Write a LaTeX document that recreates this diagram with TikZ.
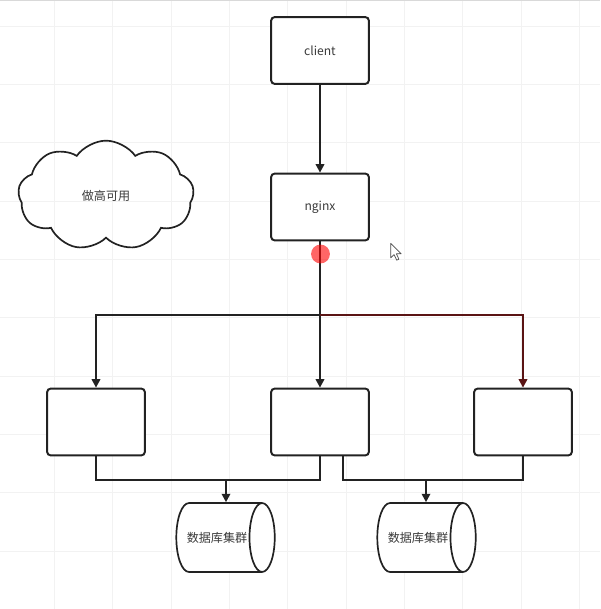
\documentclass[tikz,border=0pt]{standalone}
\usepackage{fontspec}
\usepackage{tikz}
\usetikzlibrary{arrows.meta}
\usetikzlibrary{shapes.geometric,shapes.symbols}
\usetikzlibrary{calc}
\newfontfamily\cjk{Noto Sans CJK SC}
\definecolor{ink}{HTML}{222222}
\definecolor{txt}{HTML}{3A3A3A}
\definecolor{selred}{HTML}{5A1414}
\tikzset{every node/.style={font=\cjk\fontsize{8.6}{10}\selectfont,text=txt},
 box/.style={draw=ink,line width=1.4pt,rounded corners=2.5pt,minimum width=69.5pt,minimum height=47.5pt,fill=white},
 db/.style={draw=ink,line width=1.2pt,cylinder,aspect=1.8,minimum width=49pt,minimum height=68pt,fill=white,inner sep=1pt},
 wolke/.style={draw=ink,line width=1.2pt,cloud,cloud puffs=9,cloud puff arc=110,aspect=1.7,minimum width=125pt,minimum height=78pt},
 link/.style={draw=ink,line width=1.4pt},
 arr/.style={link,-{Triangle[length=6pt,width=6pt]}},
 gridline/.style={draw=black!5,line width=0.5pt},
 }

\begin{document}
\begin{tikzpicture}[x=0.025cm,y=-0.025cm]
    \useasboundingbox (0,0) rectangle (600,609);
    \fill[white] (0,0) rectangle (600,609);
    \foreach \gx in {54.4,112.8,171.1,229.4,287.8,346.1,404.4,462.8,521.1,579.4}
        \draw[gridline] (\gx,0) -- (\gx,609);
    \foreach \gy in {26,84.3,142.7,201,259.3,317.7,376,434.3,492.7,551}
        \draw[gridline] (0,\gy) -- (600,\gy);
    \draw[black!15,line width=1pt] (0,0.5) -- (600,0.5);

    \node[box] (client) at (320,50.5) {client};
    \node[box] (nginx) at (320,207) {nginx};
    \node[wolke] (ha) at (106,195.5) {做高可用};

    \node[box] (lbox) at (96,422) {};
    \node[box] (mbox) at (320,422) {};
    \node[box] (rbox) at (523,422) {};

    \node[db] (db1) at (217,537.5) {数据库集群};
    \node[db] (db2) at (418,537.5) {数据库集群};

    \coordinate (split) at (320,315);
    \coordinate (j1) at (226,480);
    \coordinate (j2) at (426,480);

    \draw[arr] (client) -- (nginx);
    \draw[arr] (nginx.south) -- (split) -| (lbox.north);
    \draw[arr] (split) -- (mbox.north);
    \draw[arr,draw=selred] (split) -| (rbox.north);

    \draw[link] (lbox.south) |- (j1);
    \draw[arr] (mbox.south) |- (j1) -- (j1 |- db1.north);
    \draw[link] ($(mbox.south)+(23,0)$) |- (j2);
    \draw[arr] (rbox.south) |- (j2) -- (j2 |- db2.north);

    \fill[red,opacity=0.6] (320.5,254) circle[radius=6.7pt];
    \draw[black!70,fill=white,line width=0.5pt,line join=round]
        (390.7,243.3) -- ++(0,14.5) -- ++(3.4,-3.2) -- ++(2.6,5.6) -- ++(2.2,-1)
        -- ++(-2.5,-5.4) -- ++(4.8,0) -- cycle;
\end{tikzpicture}
\end{document}
